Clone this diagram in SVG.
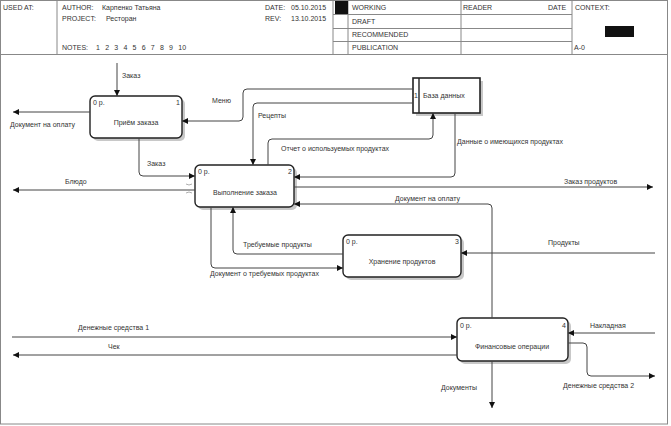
<svg xmlns="http://www.w3.org/2000/svg" width="671" height="426" viewBox="0 0 671 426">
<style>
text{font-family:"Liberation Sans",Arial,sans-serif;font-size:7px;fill:#333}
.frame{fill:none;stroke:#888;stroke-width:1}
.box{fill:#fff;stroke:#222;stroke-width:1.4}
.shadow{fill:#c8c8c8;stroke:none}
.con{fill:none;stroke:#444;stroke-width:1}
.mid{text-anchor:middle}
</style>
<defs>
<marker id="ah" viewBox="0 0 6 6" refX="6" refY="3" markerWidth="6" markerHeight="6" markerUnits="userSpaceOnUse" orient="auto">
<path d="M0,0 L6,3 L0,6 z" fill="#111"/>
</marker>
</defs>
<rect width="671" height="426" fill="#fff"/>
<!-- header -->
<g id="header">
<rect class="frame" x="0.5" y="0.5" width="667" height="54"/>
<line class="frame" x1="57" y1="0.5" x2="57" y2="54.5"/>
<line class="frame" x1="333" y1="0.5" x2="333" y2="54.5"/>
<line class="frame" x1="348" y1="0.5" x2="348" y2="54.5"/>
<line class="frame" x1="461" y1="0.5" x2="461" y2="54.5"/>
<line class="frame" x1="572" y1="0.5" x2="572" y2="54.5"/>
<line class="frame" x1="333" y1="14.5" x2="572" y2="14.5"/>
<line class="frame" x1="333" y1="28.5" x2="572" y2="28.5"/>
<line class="frame" x1="333" y1="41.5" x2="572" y2="41.5"/>
<rect x="335" y="1" width="13" height="13" fill="#111"/>
<rect x="605" y="26" width="29" height="11" fill="#111"/>
<text x="3" y="10">USED AT:</text>
<text x="62" y="10">AUTHOR:</text>
<text x="102" y="10">Карпенко Татьяна</text>
<text x="62" y="21">PROJECT:</text>
<text x="106" y="21">Ресторан</text>
<text x="62" y="50">NOTES:</text>
<text x="96" y="50" style="word-spacing:3.3px">1 2 3 4 5 6 7 8 9 10</text>
<text x="265" y="10">DATE:</text>
<text x="291" y="10">05.10.2015</text>
<text x="265" y="21">REV:</text>
<text x="291" y="21">13.10.2015</text>
<text x="352" y="10">WORKING</text>
<text x="352" y="24">DRAFT</text>
<text x="352" y="37">RECOMMENDED</text>
<text x="352" y="50">PUBLICATION</text>
<text x="463" y="10">READER</text>
<text x="548" y="10">DATE</text>
<text x="575" y="10">CONTEXT:</text>
<text x="574" y="50">A-0</text>
</g>
<rect class="frame" x="0.5" y="54.5" width="667" height="369.5"/>
<!-- nodes -->
<g id="node1">
<rect class="shadow" x="93" y="99" width="92" height="42" rx="5"/>
<rect class="box" x="90" y="96" width="92" height="42" rx="5"/>
<text x="93" y="105">0 р.</text>
<text x="176" y="105">1</text>
<text class="mid" x="136" y="125">Приём заказа</text>
</g>
<g id="db">
<rect class="shadow" x="416" y="81" width="67" height="35"/>
<rect x="413" y="78" width="67" height="35" fill="#fff" stroke="#222" stroke-width="1.6"/>
<line x1="419" y1="78" x2="419" y2="113" stroke="#222" stroke-width="1.4"/>
<text x="414" y="98">1</text>
<text x="423" y="98">База данных</text>
</g>
<g id="node2">
<rect class="shadow" x="198" y="168" width="99" height="42" rx="5"/>
<rect class="box" x="195" y="165" width="99" height="42" rx="5"/>
<text x="198" y="174">0 р.</text>
<text x="288" y="174">2</text>
<text class="mid" x="245" y="195">Выполнение заказа</text>
</g>
<g id="node3">
<rect class="shadow" x="346" y="238" width="118" height="42" rx="5"/>
<rect class="box" x="343" y="235" width="118" height="42" rx="5"/>
<text x="346" y="244">0 р.</text>
<text x="455" y="244">3</text>
<text class="mid" x="402" y="264">Хранение продуктов</text>
</g>
<g id="node4">
<rect class="shadow" x="460" y="321" width="111" height="43" rx="5"/>
<rect class="box" x="457" y="318" width="111" height="43" rx="5"/>
<text x="460" y="328">0 р.</text>
<text x="562" y="328">4</text>
<text class="mid" x="512" y="349">Финансовые операции</text>
</g>
<!-- connectors -->
<g id="connectors">
<path class="con" marker-end="url(#ah)" d="M117 63 V96"/>
<text x="122" y="78">Заказ</text>
<path class="con" marker-end="url(#ah)" d="M90 112 H13"/>
<text x="10" y="127">Документ на оплату</text>
<path class="con" marker-end="url(#ah)" d="M413 89 H247 Q243 89 243 93 V117 Q243 121 239 121 H182"/>
<text x="212" y="103">Меню</text>
<path class="con" marker-end="url(#ah)" d="M413 103 H257 Q253 103 253 107 V165"/>
<text x="258" y="118">Рецепты</text>
<path class="con" marker-end="url(#ah)" d="M268 165 V143 Q268 139 272 139 H429 Q433 139 433 135 V113"/>
<text x="281" y="151">Отчет о используемых продуктах</text>
<path class="con" marker-end="url(#ah)" d="M455 113 V173 Q455 177 451 177 H294"/>
<text x="457" y="144">Данные о имеющихся продуктах</text>
<path class="con" marker-end="url(#ah)" d="M139 138 V172 Q139 176 143 176 H195"/>
<text x="147" y="166">Заказ</text>
<path class="con" marker-end="url(#ah)" d="M195 190 H13"/>
<text x="65" y="184">Блюдо</text>
<path d="M186 184 Q189 186 192 184 M186 193 Q189 191 192 193" fill="none" stroke="#999" stroke-width="0.8"/>
<path class="con" marker-end="url(#ah)" d="M294 187 H653"/>
<text x="564" y="184">Заказ продуктов</text>
<path class="con" marker-end="url(#ah)" d="M492 318 V208 Q492 204 488 204 H294"/>
<text x="395" y="201">Документ на оплату</text>
<path class="con" marker-end="url(#ah)" d="M343 254 H237 Q233 254 233 250 V207"/>
<text x="243" y="247">Требуемые продукты</text>
<path class="con" marker-end="url(#ah)" d="M211 207 V264 Q211 268 215 268 H343"/>
<text x="210" y="276">Документ о требуемых продуктах</text>
<path class="con" marker-end="url(#ah)" d="M655 253 H461"/>
<text x="548" y="245">Продукты</text>
<path class="con" marker-end="url(#ah)" d="M12 337 H457"/>
<text x="78" y="330">Денежные средства 1</text>
<path class="con" marker-end="url(#ah)" d="M457 355 H13"/>
<text x="108" y="349">Чек</text>
<path class="con" marker-end="url(#ah)" d="M655 333 H568"/>
<text x="590" y="328">Накладная</text>
<path class="con" marker-end="url(#ah)" d="M568 343 H583 Q587 343 587 347 V372 Q587 376 591 376 H655"/>
<text x="563" y="388">Денежные средства 2</text>
<path class="con" marker-end="url(#ah)" d="M492 361 V408"/>
<text x="441" y="390">Документы</text>
</g>
</svg>
